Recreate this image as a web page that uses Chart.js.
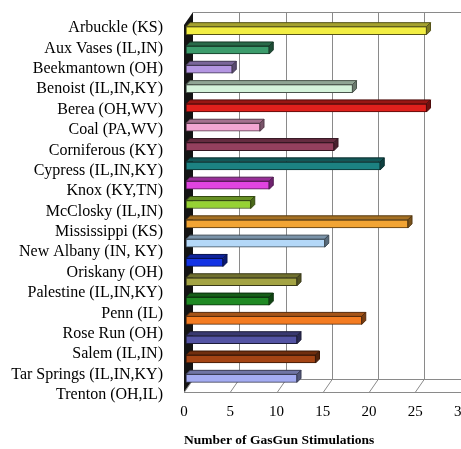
<!DOCTYPE html>
<html>
<head>
<meta charset="utf-8">
<script src="https://cdn.jsdelivr.net/npm/chart.js@4/dist/chart.umd.min.js"></script>
<style>
  html, body { margin: 0; padding: 0; background: #fff; overflow: hidden; }
  canvas { display: block; }
</style>
</head>
<body>
<canvas id="myChart" width="480" height="449"></canvas>
<script>
// formations (state) and number of stimulations
var formations = [
    "Arbuckle (KS)", "Aux Vases (IL,IN)", "Beekmantown (OH)", "Benoist (IL,IN,KY)",
    "Berea (OH,WV)", "Coal (PA,WV)", "Corniferous (KY)", "Cypress (IL,IN,KY)",
    "Knox (KY,TN)", "McClosky (IL,IN)", "Mississippi (KS)", "New Albany (IN, KY)",
    "Oriskany (OH)", "Palestine (IL,IN,KY)", "Penn (IL)", "Rose Run (OH)",
    "Salem (IL,IN)", "Tar Springs (IL,IN,KY)", "Trenton (OH,IL)"
];
var stimulations = [26, 9, 5, 18, 26, 8, 16, 21, 9, 7, 24, 15, 4, 12, 9, 19, 12, 14, 12];
var xTicks = [0, 5, 10, 15, 20, 25, 30];

var barColors = [
    "#f2ee44", "#3c9c6c", "#b496e2", "#d4f2da", "#e0201c", "#f2a6d2", "#94405e",
    "#1c8282", "#e044e0", "#96d234", "#f2a434", "#b4d8f8", "#1434e4", "#a4a444",
    "#208a24", "#f47c22", "#5454a4", "#a44414", "#a4acf2"
];

function shade(hex, f) {
    var n = parseInt(hex.slice(1), 16);
    var r = Math.round(((n >> 16) & 255) * f);
    var g = Math.round(((n >> 8) & 255) * f);
    var b = Math.round((n & 255) * f);
    return "rgb(" + r + "," + g + "," + b + ")";
}

// offsets for the fake 3D look
var wall = { dx: 9, dy: -13 };
var barDepth = 4;
var gridColor = "#8a8a8a";
var serif = "'Liberation Serif', 'Times New Roman', serif";

var threeD = {
    id: "threeD",
    beforeDatasetsDraw: function (chart) {
        var ctx = chart.ctx;
        var area = chart.chartArea;
        var xs = chart.scales.x;
        ctx.save();
        ctx.strokeStyle = gridColor;
        ctx.lineWidth = 1;
        ctx.beginPath();
        // top edge of back wall
        ctx.moveTo(area.left + wall.dx, area.top + wall.dy + 0.5);
        ctx.lineTo(chart.width, area.top + wall.dy + 0.5);
        // back floor edge
        ctx.moveTo(area.left + wall.dx, area.bottom + wall.dy + 0.5);
        ctx.lineTo(chart.width, area.bottom + wall.dy + 0.5);
        // front floor edge
        ctx.moveTo(area.left, area.bottom + 0.5);
        ctx.lineTo(chart.width, area.bottom + 0.5);
        xTicks.forEach(function (v) {
            var px = Math.round(xs.getPixelForValue(v)) + 0.5;
            if (v > 0) {
                ctx.moveTo(px + wall.dx, area.top + wall.dy);
                ctx.lineTo(px + wall.dx, area.bottom + wall.dy);
            }
            ctx.moveTo(px + wall.dx, area.bottom + wall.dy);
            ctx.lineTo(px, area.bottom);
        });
        ctx.stroke();

        // dark left wall
        ctx.fillStyle = "#141414";
        ctx.beginPath();
        ctx.moveTo(area.left, area.top);
        ctx.lineTo(area.left + wall.dx, area.top + wall.dy);
        ctx.lineTo(area.left + wall.dx, area.bottom + wall.dy);
        ctx.lineTo(area.left, area.bottom);
        ctx.closePath();
        ctx.fill();
        ctx.restore();

        // bars sit in the middle of the depth
        ctx.save();
        ctx.translate(2, -4);
    },
    afterDatasetsDraw: function (chart) {
        var ctx = chart.ctx;
        var meta = chart.getDatasetMeta(0);
        meta.data.forEach(function (bar, i) {
            var p = bar.getProps(["x", "y", "base", "height"], true);
            var top = p.y - p.height / 2;
            var bottom = p.y + p.height / 2;
            var c = barColors[i];
            ctx.lineWidth = 1;
            ctx.strokeStyle = shade(c, 0.35);
            // top face
            ctx.fillStyle = shade(c, 0.68);
            ctx.beginPath();
            ctx.moveTo(p.base, top);
            ctx.lineTo(p.x, top);
            ctx.lineTo(p.x + barDepth, top - barDepth);
            ctx.lineTo(p.base + barDepth, top - barDepth);
            ctx.closePath();
            ctx.fill();
            ctx.stroke();
            // end cap
            ctx.fillStyle = shade(c, 0.5);
            ctx.beginPath();
            ctx.moveTo(p.x, top);
            ctx.lineTo(p.x + barDepth, top - barDepth);
            ctx.lineTo(p.x + barDepth, bottom - barDepth);
            ctx.lineTo(p.x, bottom);
            ctx.closePath();
            ctx.fill();
            ctx.stroke();
        });
        ctx.restore();
    }
};

var chartData = {
    labels: formations,
    datasets: [{
        data: stimulations,
        backgroundColor: barColors,
        borderColor: barColors.map(function (c) { return shade(c, 0.35); }),
        borderWidth: 1,
        borderSkipped: false,
        barThickness: 8,
        clip: false
    }]
};

var chartOptions = {
    indexAxis: "y",
    responsive: false,
    animation: false,
    layout: { padding: { top: 25, right: 18, left: 0, bottom: 0 } },
    plugins: { legend: { display: false }, tooltip: { enabled: false } },
    scales: {
        x: {
            min: 0,
            max: 30,
            afterBuildTicks: function (scale) {
                scale.ticks = xTicks.map(function (v) { return { value: v }; });
            },
            afterFit: function (scale) { scale.height = 57; },
            grid: { display: false, drawTicks: false },
            border: { display: false },
            ticks: {
                padding: 11,
                color: "#000",
                font: { family: serif, size: 15 }
            },
            title: {
                display: true,
                text: "Number of GasGun Stimulations",
                align: "start",
                color: "#000",
                padding: { top: 0, bottom: 0 },
                font: { family: serif, size: 13.5, weight: "bold" }
            }
        },
        y: {
            display: false,
            offset: true
        },
        yl: {
            type: "category",
            position: "left",
            offset: false,
            afterFit: function (scale) {
                scale.width = 184;
                scale.paddingTop = 0;
                scale.paddingBottom = 0;
            },
            grid: { display: false, drawTicks: false },
            border: { display: false },
            ticks: {
                padding: 21,
                labelOffset: 3,
                autoSkip: false,
                color: "#000",
                font: { family: serif, size: 16 }
            }
        }
    }
};

var ctx = document.getElementById("myChart").getContext("2d");
var myChart = new Chart(ctx, {
    type: "bar",
    data: chartData,
    options: chartOptions,
    plugins: [threeD]
});
</script>
</body>
</html>
